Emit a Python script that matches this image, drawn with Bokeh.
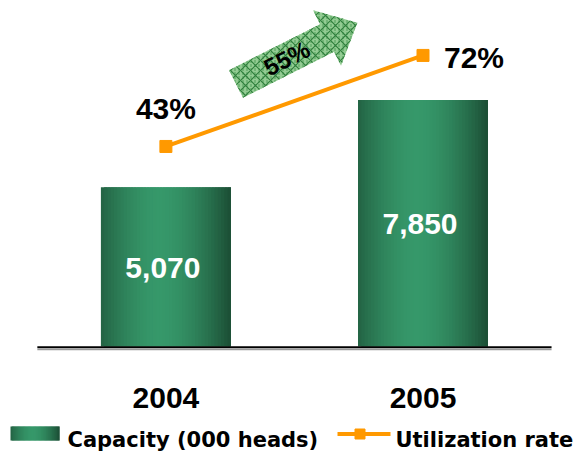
import numpy as np
from bokeh.plotting import figure
from bokeh.models import Range1d, ColumnDataSource
from bokeh.core.properties import value
from bokeh.embed import file_html
from bokeh.resources import INLINE

# ---------------- data ----------------
years = ["2004", "2005"]
capacity = [5070, 7850]
capacity_labels = ["5,070", "7,850"]
utilization = [43, 72]
utilization_labels = ["43%", "72%"]
growth_label = "55%"
legend_labels = ["Capacity (000 heads)", "Utilization rate"]

# ---------------- layout constants (canvas pixels) ----------------
W, H = 580, 452
X0, DX = 165.4, 257.1          # canvas x of category 0, spacing between categories
Y0, KY = 346.0, 0.03141        # canvas y of value 0, pixels per unit
U_START, U_END = -54.5, 89.5   # secondary (utilization) range

def px2x(px):
    return (px - X0) / DX

def px2y(py):
    return (Y0 - py) / KY

NUM_FONT = value("Liberation Sans")
LEG_FONT = value("DejaVu Sans")
ORANGE = "#FF9900"

p = figure(width=W, height=H,
           x_range=Range1d(px2x(0), px2x(W)),
           y_range=Range1d(px2y(H), px2y(0)),
           x_axis_type=None, y_axis_type=None,
           toolbar_location=None, output_backend="svg",
           min_border=0, outline_line_color=None,
           background_fill_color="white", border_fill_color="white")
p.extra_y_ranges = {"util": Range1d(U_START, U_END)}

# ---------------- gradient helper ----------------
dark = np.array([27, 77, 52], dtype=float)
light = np.array([54, 152, 106], dtype=float)

def shade(t):
    d = abs(t - 0.45) / 0.55
    f = 1 - d ** 1.7
    c = dark + (light - dark) * f
    return "#%02x%02x%02x" % tuple(int(round(v)) for v in c)

NS = 40

def strips(l0, width, top, bottom):
    L, R, T, B, C = [], [], [], [], []
    step = width / NS
    for j in range(NS):
        l = l0 + j * step
        r = l + (2 * step if j < NS - 1 else step)
        L.append(l); R.append(r); T.append(top); B.append(bottom)
        C.append(shade((j + 0.5) / NS))
    return L, R, T, B, C

bar_w = 130 / DX
lefts, rights, tops, bottoms, cols = [], [], [], [], []
for i, v in enumerate(capacity):
    L, R, T, B, C = strips(i - bar_w / 2, bar_w, v, 0)
    lefts += L; rights += R; tops += T; bottoms += B; cols += C
p.quad(left=lefts, right=rights, top=tops, bottom=bottoms,
       fill_color=cols, line_color=None)

# baseline (category band edges) with a light shadow
band = [-0.5, len(years) - 0.5]
p.line(band, [px2y(349.0)] * 2, line_color="#9a9a9a", line_width=1.5)
p.line(band, [px2y(346.8)] * 2, line_color="black", line_width=2)

# bar value labels
p.text(x=list(range(len(years))), y=[v / 2 for v in capacity], text=capacity_labels,
       text_color="white", text_font=NUM_FONT, text_font_style="bold",
       text_font_size="30px", text_align="center", text_baseline="middle",
       x_offset=-3, y_offset=1)

# year labels
p.text(x=list(range(len(years))), y=[px2y(397)] * len(years), text=years,
       text_color="black", text_font=NUM_FONT, text_font_style="bold",
       text_font_size="30px", text_align="center", text_baseline="middle")

# ---------------- growth arrow ----------------
ang = np.deg2rad(26.8)
tail = np.array([235.5, 83.5])
AL, sw, hw, hl = 136.0, 31.0, 62.0, 34.0
u = np.array([np.cos(ang), -np.sin(ang)])   # along (canvas y down)
n = np.array([np.sin(ang), np.cos(ang)])    # perpendicular
pts = [tail - n * sw / 2,
       tail + u * (AL - hl) - n * sw / 2,
       tail + u * (AL - hl) - n * hw / 2,
       tail + u * AL,
       tail + u * (AL - hl) + n * hw / 2,
       tail + u * (AL - hl) + n * sw / 2,
       tail + n * sw / 2]
ax = [px2x(q[0]) for q in pts]
ay = [px2y(q[1]) for q in pts]
p.patch(ax, ay, fill_color="#93cc93", line_color=None,
        hatch_pattern=":", hatch_color="#4f9f5a", hatch_scale=4, hatch_weight=1)
p.patch(ax, ay, fill_alpha=0, line_color=None,
        hatch_pattern="x", hatch_color="#2f7f3c", hatch_scale=10, hatch_weight=1.2)
mid = tail + u * 57
p.text(x=[px2x(mid[0])], y=[px2y(mid[1])], text=[growth_label],
       angle=float(ang), text_color="black", text_font=NUM_FONT,
       text_font_style="bold", text_font_size="24px",
       text_align="center", text_baseline="middle")

# ---------------- utilization line ----------------
xs = list(range(len(years)))
p.line(xs, utilization, y_range_name="util", line_color=ORANGE, line_width=4)
p.scatter(xs, utilization, y_range_name="util", marker="square", size=12,
          fill_color=ORANGE, line_color=ORANGE)
usrc = ColumnDataSource(dict(x=xs, y=utilization, t=utilization_labels,
                             xo=[0, 21], yo=[-37.5, 2.5], al=["center", "left"]))
p.text(x="x", y="y", text="t", source=usrc, y_range_name="util",
       x_offset="xo", y_offset="yo", text_align="al", text_baseline="middle",
       text_color="black", text_font=NUM_FONT, text_font_style="bold",
       text_font_size="30px")

# ---------------- legend (manual) ----------------
sw_l, sw_r, sw_t, sw_b = 10, 59, 426, 440
L, R, T, B, C = strips(px2x(sw_l), px2x(sw_r) - px2x(sw_l), px2y(sw_t), px2y(sw_b))
p.quad(left=L, right=R, top=T, bottom=B, fill_color=C, line_color=None)
p.line([px2x(337), px2x(390)], [px2y(433.5)] * 2, line_color=ORANGE, line_width=4)
p.scatter([px2x(359.5)], [px2y(433.5)], marker="square", size=10,
          fill_color=ORANGE, line_color=ORANGE)
p.text(x=[px2x(67), px2x(395)], y=[px2y(439.5)] * 2, text=legend_labels,
       text_color="black", text_font=LEG_FONT, text_font_style="bold",
       text_font_size="21px", text_align="left", text_baseline="alphabetic")

open("out.html", "w").write(file_html(p, INLINE))
